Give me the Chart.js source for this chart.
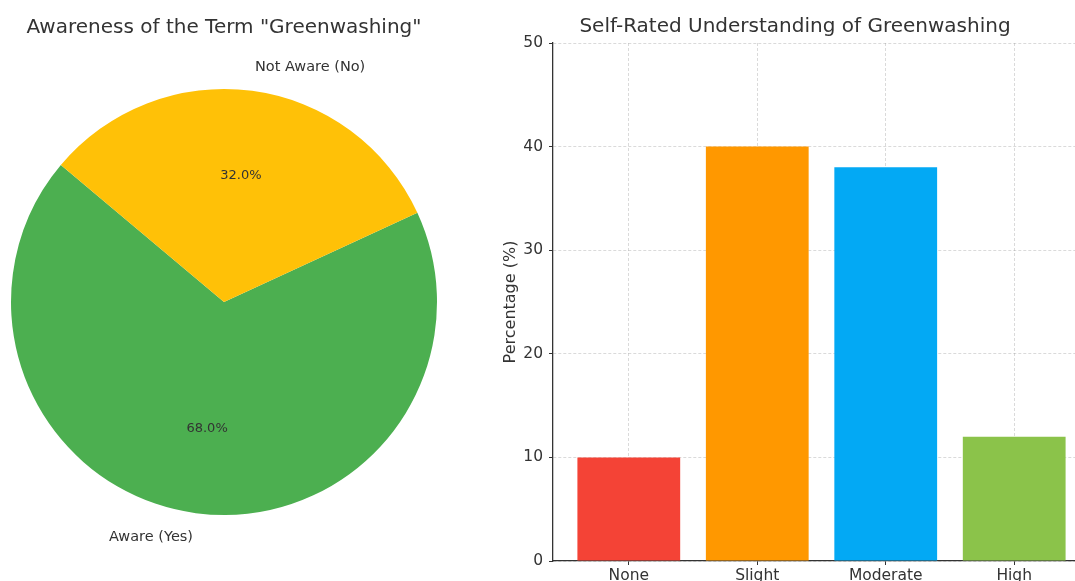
<!DOCTYPE html>
<html>
<head>
<meta charset="utf-8">
<script src="https://cdn.jsdelivr.net/npm/chart.js@4"></script>
<style>
  html, body { margin: 0; padding: 0; background: #fff; width: 1075px; height: 581px; overflow: hidden; }
  #pieWrap { position: absolute; left: 0; top: 0; width: 460px; height: 581px; }
  #barWrap { position: absolute; left: 500px; top: 0; width: 640px; height: 600px; }
</style>
</head>
<body>
<div id="pieWrap"><canvas id="awarenessChart"></canvas></div>
<div id="barWrap"><canvas id="understandingChart"></canvas></div>
<script>
const awarenessLabels = ['Aware (Yes)', 'Not Aware (No)'];
const awarenessValues = [68, 32];
const awarenessColors = ['#4CAF50', '#FFC107'];

const levelLabels = ['None', 'Slight', 'Moderate', 'High'];
const levelValues = [10, 40, 38, 12];
const levelColors = ['#F44336', '#FF9800', '#03A9F4', '#8BC34A'];
const yTicks = [0, 10, 20, 30, 40, 50];

const textColor = '#333';
const gridColor = 'rgba(150,150,150,0.35)';
const fontFamily = '"DejaVu Sans", sans-serif';
Chart.defaults.font.family = fontFamily;
Chart.defaults.color = textColor;

// slice names outside the pie, percentages inside
const sliceLabels = {
  id: 'sliceLabels',
  afterDatasetsDraw(chart) {
    const ctx = chart.ctx;
    const meta = chart.getDatasetMeta(0);
    const total = awarenessValues.reduce((a, b) => a + b, 0);
    ctx.save();
    ctx.fillStyle = textColor;
    ctx.textBaseline = 'middle';
    meta.data.forEach((arc, i) => {
      const mid = (arc.startAngle + arc.endAngle) / 2;
      const r = arc.outerRadius;
      const lx = arc.x + Math.cos(mid) * r * 1.1;
      const ly = arc.y + Math.sin(mid) * r * 1.1;
      ctx.font = '14.5px ' + fontFamily;
      ctx.textAlign = Math.cos(mid) > 0 ? 'left' : 'right';
      ctx.fillText(awarenessLabels[i], lx, ly + (Math.sin(mid) > 0 ? 3 : -3));
      const px = arc.x + Math.cos(mid) * r * 0.6;
      const py = arc.y + Math.sin(mid) * r * 0.6;
      ctx.font = '13px ' + fontFamily;
      ctx.textAlign = 'center';
      ctx.fillText((awarenessValues[i] / total * 100).toFixed(1) + '%', px, py);
    });
    ctx.restore();
  }
};

new Chart(document.getElementById('awarenessChart'), {
  type: 'pie',
  data: {
    labels: awarenessLabels,
    datasets: [{
      data: awarenessValues,
      backgroundColor: awarenessColors,
      borderWidth: 0
    }]
  },
  options: {
    responsive: true,
    maintainAspectRatio: false,
    animation: false,
    rotation: 65.2,
    layout: { padding: { left: 11, right: 23, top: 0, bottom: 66 } },
    plugins: {
      legend: { display: false },
      tooltip: { enabled: false },
      title: {
        display: true,
        text: 'Awareness of the Term "Greenwashing"',
        font: { size: 20, weight: 'normal' },
        color: textColor,
        padding: { top: 16, bottom: 49 }
      }
    }
  },
  plugins: [sliceLabels]
});

new Chart(document.getElementById('understandingChart'), {
  type: 'bar',
  data: {
    datasets: [{
      data: levelValues.map((v, i) => ({ x: i, y: v })),
      backgroundColor: levelColors,
      borderWidth: 0,
      barPercentage: 1,
      categoryPercentage: 0.8
    }]
  },
  options: {
    responsive: true,
    maintainAspectRatio: false,
    animation: false,
    layout: { padding: { left: 0, right: 50, top: 0, bottom: 0 } },
    plugins: {
      legend: { display: false },
      tooltip: { enabled: false },
      title: {
        display: true,
        text: 'Self-Rated Understanding of Greenwashing',
        font: { size: 20, weight: 'normal' },
        color: textColor,
        padding: { top: 15, bottom: 4 }
      }
    },
    scales: {
      x: {
        type: 'linear',
        z: 1,
        min: -0.59,
        max: 3.59,
        offset: false,
        afterBuildTicks: s => { s.ticks = levelLabels.map((_, i) => ({ value: i })); },
        afterFit: s => { s.height = 39; },
        ticks: {
          callback: v => levelLabels[v],
          font: { size: 15.5 },
          color: textColor,
          padding: 2,
          maxRotation: 0
        },
        grid: {
          offset: false,
          color: gridColor,
          tickColor: textColor,
          tickLength: 4,
          tickBorderDash: []
        },
        border: { color: '#333', width: 1.3, dash: [3, 2] }
      },
      y: {
        z: 1,
        min: 0,
        max: 50,
        afterBuildTicks: s => { s.ticks = yTicks.map(v => ({ value: v })); },
        afterFit: s => { s.width = 53; },
        ticks: {
          font: { size: 15.5 },
          color: textColor,
          padding: 6
        },
        grid: {
          color: gridColor,
          tickColor: textColor,
          tickLength: 4,
          tickBorderDash: []
        },
        border: { color: '#333', width: 1.3, dash: [3, 2] },
        title: {
          display: true,
          text: 'Percentage (%)',
          font: { size: 16 },
          color: textColor,
          padding: { top: 1, bottom: 0 }
        }
      }
    }
  }
});
</script>
</body>
</html>
